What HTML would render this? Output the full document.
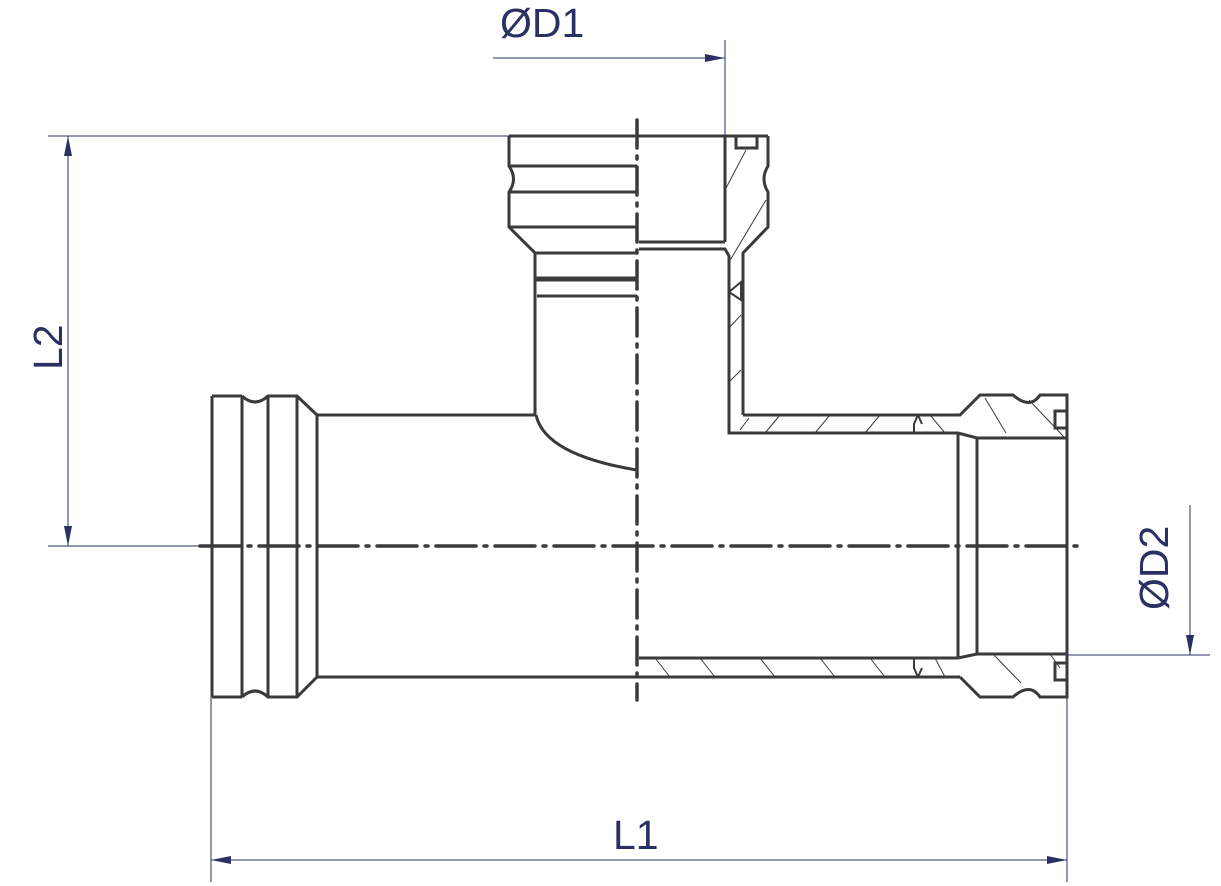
<!DOCTYPE html>
<html><head><style>html,body{margin:0;padding:0;background:#fff}svg{display:block}</style></head><body>
<svg width="1221" height="886" viewBox="0 0 1221 886" xmlns="http://www.w3.org/2000/svg">
<defs>
<marker id="a" viewBox="0 0 20 8" refX="20" refY="4" markerWidth="20" markerHeight="8" orient="auto-start-reverse" markerUnits="userSpaceOnUse"><path d="M0,0L20,4L0,8z" fill="#2a3064"/></marker>
</defs>
<g fill="none" stroke="#3a3a3a" stroke-width="3" stroke-linejoin="miter">
<path d="M212,396H242M212,697H242M212,396V697M242,396V697M268,396V697M297,396V697M317,415V677"/>
<path d="M242,396Q255,408 268,396H297L317,415M242,697Q255,685 268,697H297L317,677"/>
<path d="M317,415H536M317,677H960"/>
<path d="M536,415Q545,455 637,470"/>
<path d="M509,136H768M509,136V166Q518,179 509,192V227L535,253V415M509,166H637M509,192H637M509,227H637M535,253H637M537,296H637"/>
<path d="M535,279H637" stroke-width="5"/>
<path d="M725,136V242M639,242H725M639,249H725L729,256V433H958M743,415V253L768,227V192Q760,179 768,166V136M743,415H960L980,395H1013Q1030,410 1040,395H1067V697H1040Q1030,682 1013,697H980L960,677"/>
<path d="M736,136V148H757V136"/>
<path d="M958,433V658M977,438V655M958,433L977,438H1067M958,658L977,654H1067M639,658H958"/>
<path d="M1067,411H1055V428H1067M1067,663H1055V680H1067"/>
<path d="M729,292L741,282V300Z M918,415L914,424V433M918,415L922,424 M918,677L914,668V658M918,677L922,668" stroke-width="2"/>
</g>
<g stroke="#3a3a3a" stroke-width="1">
<path d="M746,150L725,190M766,200L729,262M741,315L729,328M741,370L729,382M749,418L740,430M780,415L765,433M830,415L815,433M880,415L865,433M930,415L945,433M985,398L1006,433M1029,400L1064,437M655,658L670,677M700,658L715,677M760,658L775,677M820,658L835,677M870,658L885,677M935,658L945,677M993,654L1021,683M1050,654L1060,668"/>
</g>
<g stroke="#3a3a3a" stroke-width="3.5" stroke-linecap="round" fill="none">
<path d="M200,546H1080" stroke-dasharray="40,8,3,8"/>
<path d="M637,120V700" stroke-dasharray="28,8,3,8"/>
</g>
<g stroke="#2a3064" stroke-width="1" fill="none">
<path d="M48,136H509M48,546H200M211,697V882M1067,697V882M725,40V136M1067,655H1210"/>
<path d="M68,136V546" marker-start="url(#a)" marker-end="url(#a)"/>
<path d="M211,860H1067" marker-start="url(#a)" marker-end="url(#a)"/>
<path d="M493,58H725" marker-end="url(#a)"/>
<path d="M1190,505V655" marker-end="url(#a)"/>
</g>
<g fill="#2a3064" font-family="Liberation Sans, sans-serif" font-size="41">
<text x="500" y="37">ØD1</text>
<text x="613" y="849">L1</text>
<text transform="translate(62,370) rotate(-90)">L2</text>
<text transform="translate(1168,610) rotate(-90)">ØD2</text>
</g>
</svg>
</body></html>
